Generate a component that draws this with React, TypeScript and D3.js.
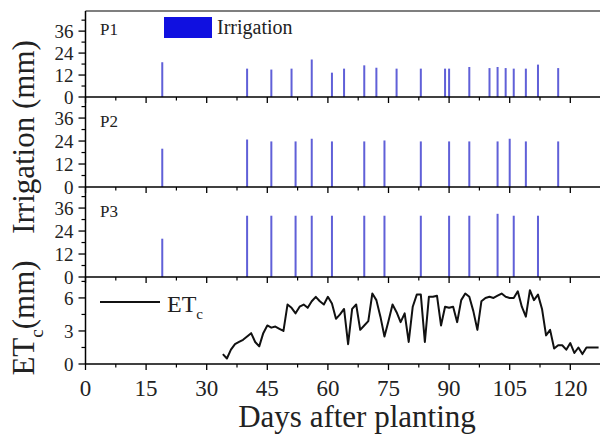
import React, { useEffect, useRef } from "react";
import * as d3 from "d3";

// irrigation events (day after planting, depth in mm)
const p1Days = [19, 40, 46, 51, 56, 61, 64, 69, 72, 77, 83, 89, 90, 95, 100, 102, 104, 106, 109, 112, 117];
const p1Irr = [19, 15.5, 15, 15.5, 20.5, 13.3, 15.5, 17.3, 16, 15.5, 15.5, 15.5, 15.5, 16.4, 15.8, 16.4, 15.8, 15.5, 15.5, 17.7, 15.8];
const p2Days = [19, 40, 46, 52, 56, 61, 69, 74, 83, 90, 95, 102, 105, 109, 117];
const p2Irr = [20, 24.8, 23.8, 23.8, 25.2, 23.8, 23.8, 24.3, 23.8, 23.8, 23.8, 23.8, 25.2, 23.8, 23.8];
const p3Days = [19, 40, 46, 52, 56, 61, 69, 74, 83, 90, 95, 102, 106, 112];
const p3Irr = [20, 32, 32, 32, 32, 32, 32, 32, 32, 32, 32, 33, 32, 32];

// crop evapotranspiration
const etDays = [34, 35, 36, 37, 38, 39, 40, 41, 42, 43, 44, 45, 46, 47, 48, 49, 50, 51, 52, 53, 54, 55, 56, 57, 58, 59,
  60, 61, 62, 63, 64, 65, 66, 67, 68, 69, 70, 71, 72, 73, 74, 75, 76, 77, 78, 79, 80, 81, 82, 83, 84, 85, 86, 87, 88, 89,
  90, 91, 92, 93, 94, 95, 96, 97, 98, 99, 100, 101, 102, 103, 104, 105, 106, 107, 108, 109, 110, 111, 112, 113, 114, 115,
  116, 117, 118, 119, 120, 121, 122, 123, 124, 125, 126, 127];
const etValues = [0.9, 0.5, 1.3, 1.8, 2.0, 2.2, 2.5, 2.8, 2.0, 1.6, 2.8, 3.5, 3.3, 3.4, 3.2, 3.0, 5.4, 5.1, 4.6, 5.2, 5.4, 5.1,
  5.7, 6.1, 5.7, 5.4, 6.1, 5.5, 4.1, 4.5, 5.0, 1.8, 5.0, 5.4, 3.1, 3.5, 3.9, 6.4, 5.8, 4.3, 2.5, 3.9, 5.4, 4.7, 3.8, 4.6,
  2.0, 5.2, 6.3, 6.3, 2.0, 6.1, 6.1, 6.2, 3.5, 5.2, 5.1, 5.2, 3.8, 5.8, 6.4, 6.1, 4.8, 3.1, 5.7, 6.0, 6.1, 6.0, 6.2, 6.4,
  6.1, 6.0, 6.0, 6.6, 5.2, 4.3, 6.7, 5.8, 6.3, 5.0, 2.6, 3.1, 1.4, 1.7, 1.7, 1.3, 1.9, 1.0, 1.5, 0.9, 1.5, 1.5, 1.5, 1.5];

const xTicks = [0, 15, 30, 45, 60, 75, 90, 105, 120];
const irrTicks = [0, 12, 24, 36];
const etTicks = [0, 3, 6];

const FONT = "'Liberation Serif', 'Times New Roman', serif";

const App = () => {
  const ref = useRef<SVGSVGElement>(null);

  useEffect(() => {
    const svg = d3.select(ref.current);
    svg.selectAll("*").remove();

    const x = d3.scaleLinear().domain([0, 130]).range([85.5, 85.5 + 130 * 4.04]);
    const left = x(0);

    const panels = [
      { name: "P1", days: p1Days, vals: p1Irr, top: 11, bottom: 97, labelY: 35 },
      { name: "P2", days: p2Days, vals: p2Irr, top: 97, bottom: 187, labelY: 127 },
      { name: "P3", days: p3Days, vals: p3Irr, top: 187, bottom: 277, labelY: 217 },
    ];

    // top frame line
    svg.append("line")
      .attr("x1", left).attr("x2", 600)
      .attr("y1", 11).attr("y2", 11)
      .attr("stroke", "#555").attr("stroke-width", 1.5);

    const drawXTicks = (yb: number, labels: boolean) => {
      const g = svg.append("g");
      xTicks.forEach(t => {
        g.append("line").attr("x1", x(t)).attr("x2", x(t))
          .attr("y1", yb).attr("y2", yb + 6)
          .attr("stroke", "#000").attr("stroke-width", 1.3);
        g.append("line").attr("x1", x(t + 7.5)).attr("x2", x(t + 7.5))
          .attr("y1", yb).attr("y2", yb + 3.5)
          .attr("stroke", "#000").attr("stroke-width", 1.2);
        if (labels) {
          g.append("text").attr("x", x(t)).attr("y", yb + 32)
            .attr("text-anchor", "middle")
            .attr("font-family", FONT).attr("font-size", 23)
            .attr("fill", "#222")
            .text(t);
        }
      });
      svg.append("line").attr("x1", left).attr("x2", 600)
        .attr("y1", yb).attr("y2", yb)
        .attr("stroke", "#000").attr("stroke-width", 1.5);
    };

    const drawYTicks = (y: d3.ScaleLinear<number, number>, ticks: number[], minor: number[]) => {
      const g = svg.append("g");
      ticks.forEach(t => {
        g.append("line").attr("x1", left - 7).attr("x2", left)
          .attr("y1", y(t)).attr("y2", y(t))
          .attr("stroke", "#000").attr("stroke-width", 1.3);
        g.append("text").attr("x", left - 12).attr("y", y(t))
          .attr("dy", "0.35em")
          .attr("text-anchor", "end")
          .attr("font-family", FONT).attr("font-size", 19)
          .attr("fill", "#222")
          .text(t);
      });
      minor.forEach(t => {
        g.append("line").attr("x1", left - 4).attr("x2", left)
          .attr("y1", y(t)).attr("y2", y(t))
          .attr("stroke", "#000").attr("stroke-width", 1.2);
      });
    };

    panels.forEach(p => {
      const y = d3.scaleLinear().domain([0, 47]).range([p.bottom, p.top]);
      svg.append("g")
        .selectAll("rect")
        .data(p.days.map((d, i) => ({ day: d, v: p.vals[i] })))
        .enter()
        .append("rect")
        .attr("x", d => x(d.day) - 1)
        .attr("width", 2)
        .attr("y", d => y(d.v))
        .attr("height", d => y(0) - y(d.v))
        .attr("fill", "#6060d8");
      drawYTicks(y, irrTicks, [6, 18, 30, 42]);
      drawXTicks(p.bottom, false);
      svg.append("text").attr("x", 100).attr("y", p.labelY)
        .attr("font-family", FONT).attr("font-size", 17)
        .attr("fill", "#222")
        .text(p.name);
    });

    // irrigation legend
    svg.append("rect").attr("x", 164).attr("y", 17).attr("width", 48).attr("height", 21)
      .attr("fill", "#1010e0");
    svg.append("text").attr("x", 217).attr("y", 34)
      .attr("font-family", FONT).attr("font-size", 20).attr("fill", "#222")
      .text("Irrigation");

    // ET panel
    const yEt = d3.scaleLinear().domain([0, 7.9]).range([364, 277]);
    const line = d3.line<number>()
      .x((_, i) => x(etDays[i]))
      .y(d => yEt(d));
    svg.append("path")
      .datum(etValues)
      .attr("d", line)
      .attr("fill", "none")
      .attr("stroke", "#111")
      .attr("stroke-width", 2)
      .attr("stroke-linejoin", "round");
    drawYTicks(yEt, etTicks, [1.5, 4.5, 7.5]);
    drawXTicks(364, true);

    // ET legend
    svg.append("line").attr("x1", 100).attr("x2", 160).attr("y1", 302).attr("y2", 302)
      .attr("stroke", "#111").attr("stroke-width", 2);
    const lg = svg.append("text").attr("x", 167).attr("y", 312)
      .attr("font-family", FONT).attr("font-size", 24).attr("fill", "#222");
    lg.append("tspan").text("ET");
    lg.append("tspan").attr("font-size", 15).attr("dy", 7).text("c");

    // y axis line
    svg.append("line").attr("x1", left).attr("x2", left).attr("y1", 11).attr("y2", 364)
      .attr("stroke", "#000").attr("stroke-width", 1.5);

    // axis titles
    svg.append("text")
      .attr("transform", "translate(34,137) rotate(-90)")
      .attr("text-anchor", "middle")
      .attr("font-family", FONT).attr("font-size", 31).attr("fill", "#222")
      .text("Irrigation (mm)");
    const et = svg.append("text")
      .attr("transform", "translate(34,318) rotate(-90)")
      .attr("text-anchor", "middle")
      .attr("font-family", FONT).attr("font-size", 31).attr("fill", "#222");
    et.append("tspan").text("ET");
    et.append("tspan").attr("font-size", 19).attr("dy", 9).text("c");
    et.append("tspan").attr("dy", -9).text("(mm)");

    svg.append("text").attr("x", 357).attr("y", 427)
      .attr("text-anchor", "middle")
      .attr("font-family", FONT).attr("font-size", 31).attr("fill", "#222")
      .text("Days after planting");
  }, []);

  return (
    <svg ref={ref} width={600} height={439}
      style={{ position: "absolute", left: 0, top: 0, background: "#fff" }} />
  );
};

export default App;
